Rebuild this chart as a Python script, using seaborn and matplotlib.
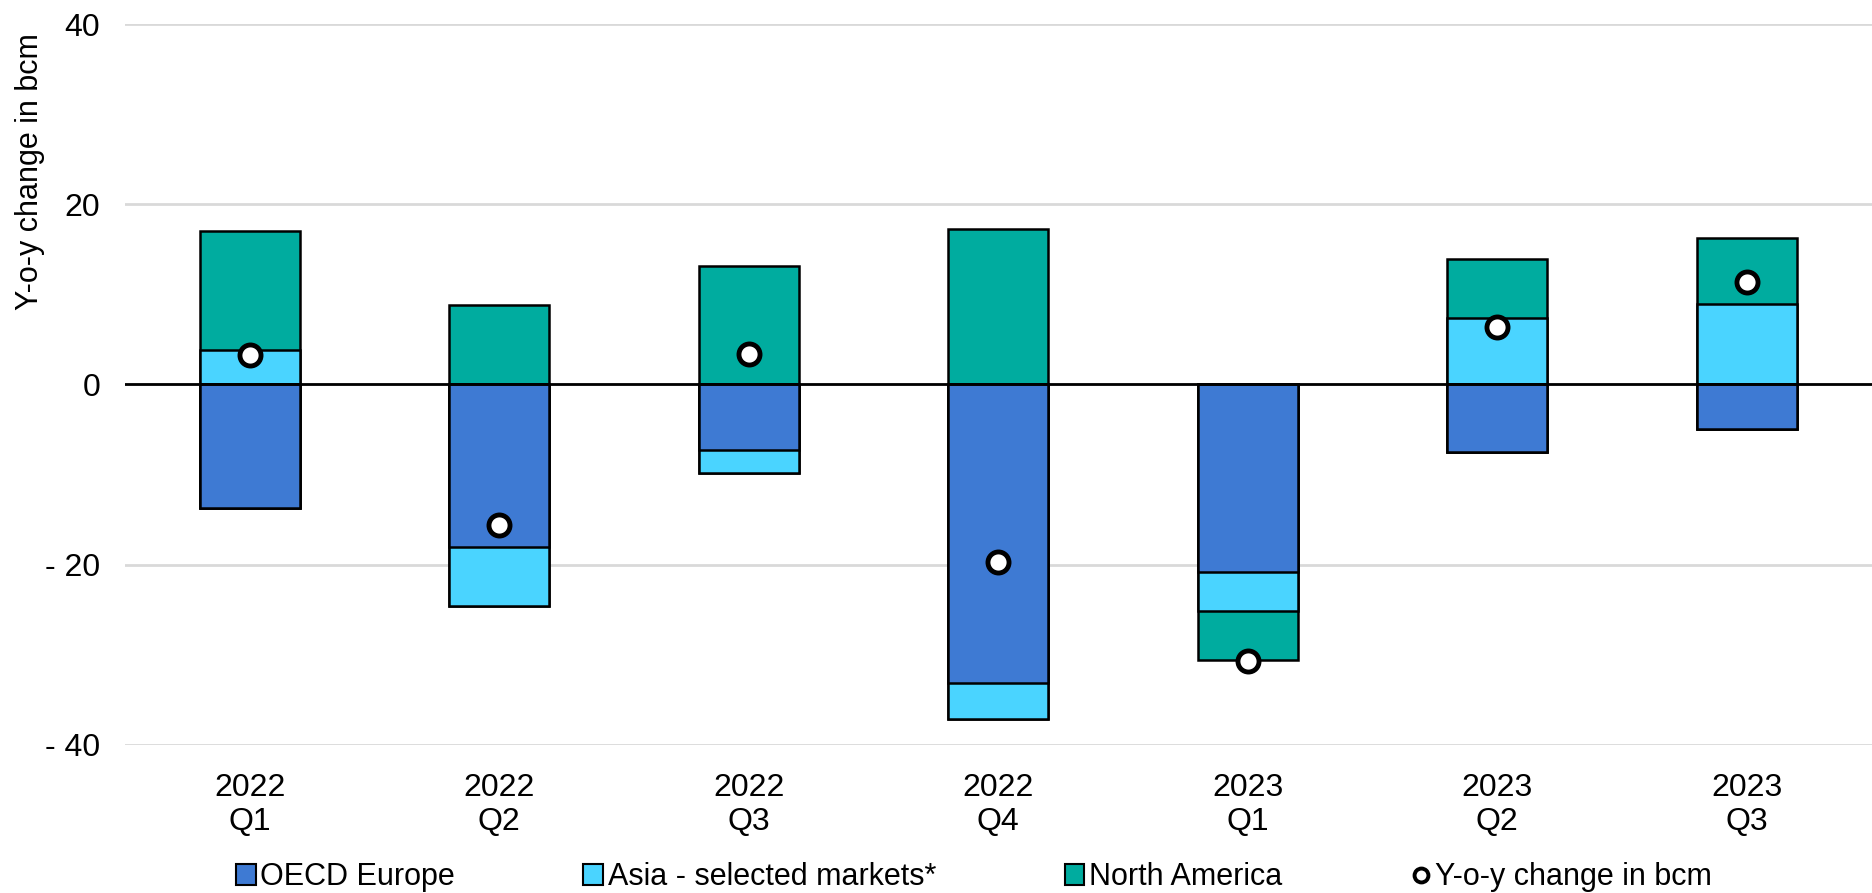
import numpy as np
import pandas as pd
import matplotlib
matplotlib.use("Agg")
import matplotlib.pyplot as plt
import seaborn as sns
from matplotlib.lines import Line2D
from matplotlib.patches import Patch

quarters = ["2022\nQ1", "2022\nQ2", "2022\nQ3", "2022\nQ4",
            "2023\nQ1", "2023\nQ2", "2023\nQ3"]
oecd_europe = [-13.7, -18.0, -7.3, -33.1, -20.8, -7.5, -4.9]
asia = [3.8, -6.6, -2.5, -4.0, -4.4, 7.4, 8.9]
north_america = [13.2, 8.8, 13.1, 17.3, -5.4, 6.5, 7.4]
yoy_change = [3.3, -15.6, 3.4, -19.7, -30.7, 6.4, 11.4]

series = ["OECD Europe", "Asia - selected markets*", "North America"]
colors = {"OECD Europe": "#3e7ad3",
          "Asia - selected markets*": "#4ad4ff",
          "North America": "#00ac9f"}

df = pd.DataFrame({"quarter": quarters,
                   "OECD Europe": oecd_europe,
                   "Asia - selected markets*": asia,
                   "North America": north_america,
                   "yoy": yoy_change})

# cumulative positive / negative stacks (Excel style)
vals = df[series].to_numpy()
pos_cum = np.cumsum(np.clip(vals, 0, None), axis=1)
neg_cum = np.cumsum(np.clip(vals, None, 0), axis=1)

plt.rcParams["font.family"] = ["Liberation Sans", "DejaVu Sans"]
fig = plt.figure(figsize=(18.72, 8.93), dpi=100)
ax = fig.add_axes([0.0668, 0.166, 0.933, 0.807])

ax.set_ylim(-40, 40)
ax.set_yticks([-40, -20, 0, 20, 40])
ax.yaxis.grid(True, color="#d9d9d9", linewidth=2)
ax.set_axisbelow(True)

# draw outermost level first so inner segments sit on top
for i in range(len(series) - 1, -1, -1):
    name = series[i]
    for cum in (pos_cum, neg_cum):
        sns.barplot(x=df["quarter"], y=cum[:, i], color=colors[name],
                    width=0.4, edgecolor="black", linewidth=1.8,
                    saturation=1, ax=ax, zorder=2)

ax.axhline(0, color="black", linewidth=2, zorder=3)

sns.scatterplot(x=df["quarter"], y=df["yoy"], ax=ax, s=230,
                color="white", edgecolor="black", linewidth=3.5,
                zorder=4, legend=False)

ax.set_xlim(-0.5, 6.5)
ax.set_xlabel("")
ax.set_ylabel("Y-o-y change in bcm", fontsize=22)
ax.yaxis.set_label_coords(-0.046, 0.795)
ax.set_yticklabels(["- 40", "- 20", "0", "20", "40"])
ax.tick_params(axis="y", labelsize=23, length=0, pad=18)
ax.tick_params(axis="x", labelsize=23, length=0, pad=20)
for lbl in ax.get_xticklabels():
    lbl.set_horizontalalignment("center")
    lbl.set_multialignment("center")
for s in ax.spines.values():
    s.set_visible(False)

handles = [Patch(facecolor=colors[n], edgecolor="black", linewidth=1.5, label=n)
           for n in series]
handles.append(Line2D([], [], marker="o", linestyle="none", markersize=10,
                      markerfacecolor="white", markeredgecolor="black",
                      markeredgewidth=2.8, label="Y-o-y change in bcm"))
ax.legend(handles=handles, loc="center", bbox_to_anchor=(0.486, -0.184),
          ncol=4, frameon=False, fontsize=22, handlelength=0.65,
          handleheight=0.65, handletextpad=0.15, columnspacing=4.2)

fig.savefig("out.png", dpi=100, facecolor="white")
